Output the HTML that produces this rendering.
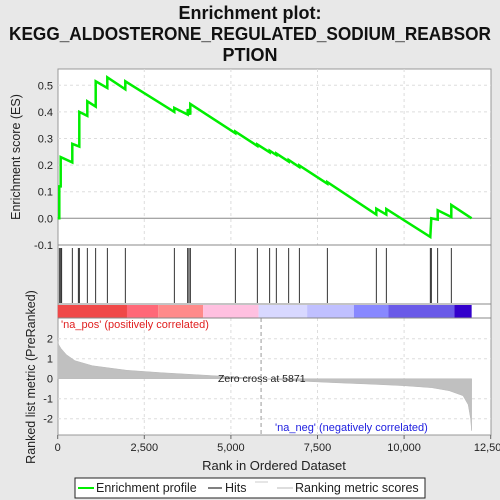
<!DOCTYPE html>
<html><head><meta charset="utf-8"><style>
body{margin:0;background:#e8e8e8;font-family:"Liberation Sans",sans-serif;}
svg{display:block}
</style></head><body>
<svg id="chart" width="500" height="500" xmlns="http://www.w3.org/2000/svg">
<rect x="0" y="0" width="500" height="500" fill="#e8e8e8"/>
<g font-weight="bold" font-size="18" fill="#111" text-anchor="middle">
<text x="250" y="19">Enrichment plot:</text>
<text x="250" y="40" textLength="482" lengthAdjust="spacingAndGlyphs">KEGG_ALDOSTERONE_REGULATED_SODIUM_REABSOR</text>
<text x="250" y="61">PTION</text>
</g>
<rect x="58" y="69" width="433" height="366" fill="#fff" stroke="#999"/>
<g id="grid"></g>
<g id="es-panel"></g>
<g id="hits"></g>
<g id="colorbar"></g>
<g id="metric"></g>
<g id="axes" font-size="11" fill="#222"></g>
<line x1="58" y1="245" x2="491" y2="245" stroke="#888"/>
<line x1="58" y1="304" x2="491" y2="304" stroke="#888"/>
<line x1="58" y1="318" x2="491" y2="318" stroke="#888"/>
<text x="61" y="328" font-size="11" fill="#e02020">'na_pos' (positively correlated)</text>
<text x="275" y="431" font-size="11" fill="#2020e0">'na_neg' (negatively correlated)</text>
<text x="218" y="382" font-size="10.5" fill="#222">Zero cross at 5871</text>
<text x="274" y="470" font-size="13" fill="#222" text-anchor="middle">Rank in Ordered Dataset</text>
<text transform="translate(20,157) rotate(-90)" font-size="12.5" fill="#222" text-anchor="middle">Enrichment score (ES)</text>
<text transform="translate(35,377) rotate(-90)" font-size="12.5" fill="#222" text-anchor="middle">Ranked list metric (PreRanked)</text>
<g>
<rect x="75" y="478" width="350" height="20" fill="#fff" stroke="#222"/>
<line x1="78" y1="488" x2="94" y2="488" stroke="#00ee00" stroke-width="2"/>
<text x="96" y="492" font-size="12.5" fill="#222">Enrichment profile</text>
<line x1="208" y1="488" x2="222" y2="488" stroke="#000"/>
<text x="225" y="492" font-size="12.5" fill="#222">Hits</text>
<line x1="255" y1="482" x2="268" y2="482" stroke="#ccc"/>
<line x1="277" y1="488" x2="293" y2="488" stroke="#bbb"/>
<text x="295" y="492" font-size="12.5" fill="#222">Ranking metric scores</text>
</g>
</svg>
<script>
const hitRanks=[46,87,115,421,595,624,854,1097,1432,1951,3366,3753,3790,3828,5127,5762,6120,6310,6669,6975,7783,9197,9486,10756,10785,10970,11362];
const esRanks=[0,46,46,87,87,421,421,624,624,854,854,1097,1097,1432,1432,1951,1951,3366,3366,3753,3753,3828,3828,5127,5127,5762,5762,6120,6120,6310,6310,6669,6669,6975,6975,7783,7783,9197,9197,9486,9486,10756,10785,10970,10970,11362,11362,11950];
const esValues=[0,0,0.12,0.12,0.23,0.21,0.28,0.27,0.40,0.385,0.44,0.42,0.515,0.49,0.53,0.485,0.515,0.40,0.415,0.39,0.41,0.39,0.43,0.32,0.326,0.272,0.278,0.248,0.254,0.238,0.244,0.213,0.219,0.193,0.199,0.13,0.136,0.014,0.036,0.014,0.035,-0.07,0.0,-0.005,0.03,0.005,0.05,0.0];
const metricRanks=[0,30,100,250,500,1000,2000,3000,4000,5000,5871,7000,8000,9000,10000,10800,11300,11700,11850,11920,11950];
const metricValues=[1.9,1.7,1.5,1.2,0.9,0.65,0.42,0.3,0.2,0.1,0,-0.12,-0.2,-0.27,-0.35,-0.45,-0.6,-0.85,-1.3,-2.0,-2.6];
const esTicks=[-0.1,0.0,0.1,0.2,0.3,0.4,0.5];
const metricTicks=[-2,-1,0,1,2];
const xTicks=[0,2500,5000,7500,10000,12500];
const xTickLabels=["0","2,500","5,000","7,500","10,000","12,500"];
const barStops=[0,2000,2900,4200,5800,7200,8550,9550,11450,11950];
const barColors=["#f04848","#ff6878","#ff8a8a","#ffc0e0","#d8d8ff","#c0c0ff","#8888ff","#6a5ae8","#3300cc"];
const NS="http://www.w3.org/2000/svg";
const X=r=>57.7+r*0.03464;
const YE=v=>218.3-v*266;
const YM=v=>378.7-v*20;
function mk(parent,tag,attrs){const e=document.createElementNS(NS,tag);for(const k in attrs)e.setAttribute(k,attrs[k]);document.getElementById(parent).appendChild(e);return e;}
xTicks.forEach((t,i)=>{
 if(i>0&&i<5){const g=mk('grid','line',{x1:X(t),x2:X(t),y1:69,y2:245,stroke:'#ddd','stroke-dasharray':'3,3'});
 
 
 const g2=mk('grid','line',{x1:X(t),x2:X(t),y1:318,y2:435,stroke:'#ddd','stroke-dasharray':'3,3'});
 
 }
 const tk=mk('axes','line',{x1:X(t),x2:X(t),y1:435,y2:439,stroke:'#666'});
 
 
 const tl=mk('axes','text',{x:X(t),y:451,'text-anchor':'middle'});tl.textContent=xTickLabels[i];
 
 
});
esTicks.forEach(t=>{
 if(t!==0&&t!==-0.1){const g=mk('grid','line',{x1:58,x2:491,y1:YE(t),y2:YE(t),stroke:'#ddd','stroke-dasharray':'3,3'});
 
 }
 const tl=mk('axes','text',{x:53,y:YE(t)+4,'text-anchor':'end'});tl.textContent=t.toFixed(1);
 
 
});
metricTicks.forEach(t=>{
 if(t!==0){const g=mk('grid','line',{x1:58,x2:491,y1:YM(t),y2:YM(t),stroke:'#ddd','stroke-dasharray':'3,3'});
 
 }
 const tl=mk('axes','text',{x:53,y:YM(t)+4,'text-anchor':'end'});tl.textContent=String(t);
 
 
});
const z=mk('es-panel','line',{x1:58,x2:491,y1:YE(0),y2:YE(0),stroke:'#888'});


const pts=esRanks.map((r,i)=>X(r).toFixed(1)+','+YE(esValues[i]).toFixed(1)).join(' ');
const es=mk('es-panel','polyline',{points:pts,fill:'none',stroke:'#00ee00','stroke-width':2.5});


hitRanks.forEach(r=>{const h=mk('hits','line',{x1:X(r),x2:X(r),y1:248,y2:303,stroke:'#000','stroke-width':0.8});
 
 });
barColors.forEach((c,i)=>{const b=mk('colorbar','rect',{x:X(barStops[i]),y:305,width:X(barStops[i+1])-X(barStops[i]),height:13,fill:c});
 
 });
let mp='M'+X(0)+','+YM(0);
metricRanks.forEach((r,i)=>{mp+=' L'+X(r).toFixed(1)+','+YM(metricValues[i]).toFixed(1);});
mp+=' L'+X(metricRanks[metricRanks.length-1])+','+YM(0)+' Z';
const m=mk('metric','path',{d:mp,fill:'#c0c0c0',stroke:'#b8b8b8','stroke-width':0.5});


const zc=mk('metric','line',{x1:X(5871),x2:X(5871),y1:318,y2:435,stroke:'#999','stroke-dasharray':'4,3'});


</script>
</body></html>
